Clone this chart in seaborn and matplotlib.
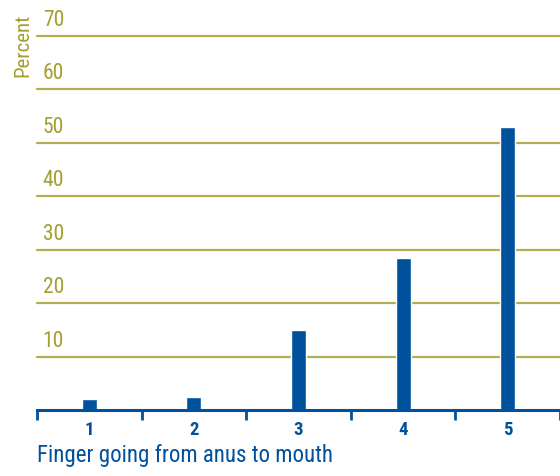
import matplotlib
matplotlib.use("Agg")
import matplotlib.pyplot as plt
import matplotlib.transforms as mtransforms
import seaborn as sns
import pandas as pd

# Share of cases by finger position (1 = anus ... 5 = mouth)
fingers = ["1", "2", "3", "4", "5"]
percent = [2.0, 2.5, 15.0, 28.5, 53.0]
y_ticks = [10, 20, 30, 40, 50, 60, 70]

BLUE = "#00519b"
OLIVE = "#a39e30"
GRID = "#b3ae52"

sns.set_theme(style="white")
plt.rcParams["font.family"] = ["Roboto Condensed", "Roboto", "DejaVu Sans"]

df = pd.DataFrame({"finger": fingers, "percent": percent})

fig = plt.figure(figsize=(5.6, 4.76), dpi=100)
ax = fig.add_axes([0.066, 0.1387, 0.934, 0.7863])

# Horizontal guide lines behind the bars
for v in y_ticks:
    ax.axhline(v, color=GRID, lw=1.6, zorder=0, clip_on=False)

sns.barplot(data=df, x="finger", y="percent", color=BLUE, width=0.145,
            saturation=1, ax=ax, zorder=3)

ax.set_xlim(-0.5, 4.5)
ax.set_ylim(0, 70)

# Value labels sit just above each guide line, at the left end
trans = mtransforms.offset_copy(ax.get_yaxis_transform(), fig=fig, x=0, y=3.5, units="points")
for v in y_ticks:
    ax.text(0.011, v, str(v), transform=trans, ha="left", va="bottom",
            color=OLIVE, fontsize=15.5)
ax.set_yticks([])

# Category boundaries as tick marks, category numbers centred between them
ax.set_xticks([i - 0.5 for i in range(6)])
ax.set_xticklabels([])
ax.set_xticks(range(5), minor=True)
ax.set_xticklabels(fingers, minor=True, fontsize=13.5, fontweight="bold", color=BLUE)
ax.tick_params(axis="x", which="major", direction="out", length=7, width=2,
               color=BLUE, bottom=True)
ax.tick_params(axis="x", which="minor", length=0, pad=8)

for side in ["top", "right", "left"]:
    ax.spines[side].set_visible(False)
ax.spines["bottom"].set_color(BLUE)
ax.spines["bottom"].set_linewidth(2.2)
ax.spines["bottom"].set_zorder(4)

ax.set_xlabel("Finger going from anus to mouth", fontsize=16.5, color=BLUE,
              ha="left", labelpad=4)
ax.xaxis.set_label_coords(0.0, -0.09)
ax.xaxis.label.set_va("top")
ax.set_ylabel("")

fig.text(0.04, 0.972, "Percent", rotation=90, ha="center", va="top",
         color=OLIVE, fontsize=15)

fig.savefig("out.png", dpi=100)
